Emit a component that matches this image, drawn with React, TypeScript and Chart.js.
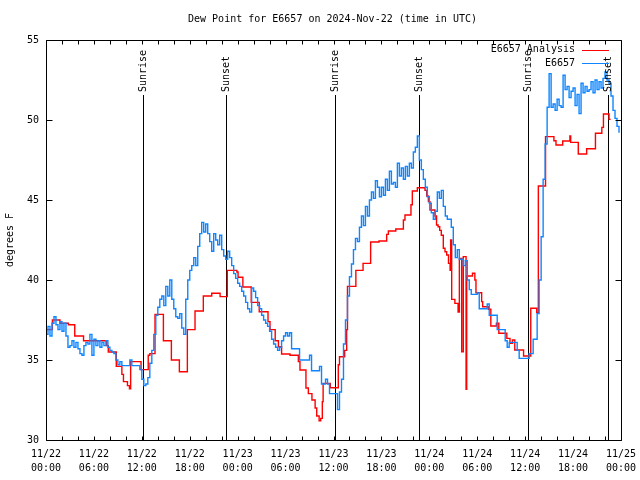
import React, { useEffect, useRef } from 'react';
import { Chart, registerables } from 'chart.js';

Chart.register(...registerables);

const FONT = '"DejaVu Sans Mono", "Liberation Mono", monospace';

const chartTitle = 'Dew Point for E6657 on 2024-Nov-22 (time in UTC)';
const yAxisTitle = 'degrees F';
const seriesNames = ['E6657 Analysis', 'E6657'];
const seriesColors = ['#ff0000', '#0f86ff'];

const xTickDates = ['11/22', '11/22', '11/22', '11/22', '11/23', '11/23', '11/23', '11/23', '11/24', '11/24', '11/24', '11/24', '11/25'];
const xTickTimes = ['00:00', '06:00', '12:00', '18:00', '00:00', '06:00', '12:00', '18:00', '00:00', '06:00', '12:00', '18:00', '00:00'];
const xMinHour = 0;
const xMaxHour = 72;
const xMajorStep = 6;
const xMinorStep = 2;
const yMin = 30;
const yMax = 55;
const yStep = 5;

const sunriseHours = [12.1, 36.2, 60.3];
const sunsetHours = [22.5, 46.65, 70.4];

// Analysis (stepped): hour since 11/22 00:00 UTC, value °F
const analysisHours = [
  0.0, 0.8, 1.75, 2.8, 3.6, 4.7, 7.6, 7.8, 8.8, 9.5, 9.7, 10.2, 10.45, 10.6, 11.9,
  12.8, 13.0, 13.65, 14.7, 15.7, 16.7, 17.7, 18.66, 19.7, 20.75, 21.8, 22.7, 23.9,
  24.05, 24.65, 25.7, 26.7, 27.8, 28.05, 28.7, 29.1, 29.5, 30.55, 31.6, 31.8, 32.55,
  32.85, 33.3, 33.7, 33.9, 34.2, 34.4, 34.6, 34.7, 35.6, 36.6, 36.75, 37.4, 37.65,
  37.75, 38.8, 39.7, 40.65, 41.7, 42.66, 42.87, 43.8, 44.75, 44.95, 45.7, 45.87,
  46.5, 47.46, 47.67, 47.88, 48.08, 48.7, 48.9, 49.1, 49.3, 49.5, 49.75, 49.96,
  50.17, 50.4, 50.6, 50.67, 50.8, 51.2, 51.6, 51.76, 52.05, 52.25, 52.4, 52.6,
  52.68, 53.4, 53.7, 53.84, 54.55, 54.68, 55.4, 55.7, 56.4, 56.7, 57.7, 58.1, 58.4,
  58.7, 59.8, 60.7, 61.45, 61.65, 62.55, 63.6, 63.86, 64.7, 65.6, 65.7, 66.65,
  67.7, 68.8, 69.6, 69.8, 70.5, 70.7,
];
const analysisDewPoint = [
  36.9, 37.5, 37.3, 37.2, 36.5, 36.2, 35.9, 35.5, 34.6, 34.1, 33.65, 33.4, 33.2, 34.9, 34.4,
  35.3, 35.4, 37.85, 36.2, 35.0, 34.27, 36.9, 38.06, 39.0, 39.17, 38.96, 40.6, 40.5,
  40.17, 39.56, 38.6, 38.02, 37.4, 36.9, 36.2, 35.83, 35.375, 35.3, 34.9, 34.375, 33.25,
  32.9, 32.5, 32.0, 31.5, 31.2, 31.35, 32.4, 33.54, 33.27, 34.7, 35.2, 35.6, 36.9,
  39.6, 40.6, 41.04, 42.375, 42.44, 42.85, 43.06, 43.19, 43.75, 44.06, 44.7, 45.56,
  45.77, 45.6, 45.25, 44.9, 44.375, 44.0, 43.44, 43.33, 43.1, 42.8, 41.98, 41.77,
  41.56, 41.04, 40.6, 42.5, 38.79, 38.54, 38.0, 41.35, 35.52, 41.46, 41.46, 33.17,
  40.25, 40.42, 40.0, 39.2, 38.65, 38.33, 38.17, 37.125, 37.3, 36.67, 36.35, 36.04, 36.25,
  35.625, 35.25, 38.23, 37.96, 45.875, 48.96, 48.7, 48.44, 48.69, 49.0, 48.6, 47.875,
  48.2, 49.17, 49.54, 50.375, 50.04, 50.04,
];

// Observations, one value every 15 minutes from 11/22 00:00 UTC
const obsStartHour = 0;
const obsStepHours = 0.25;
const obsDewPoint = [
  36.6, 37.1, 36.5, 37.3, // 0h
  37.7, 37.2, 36.9, 37.4,
  36.8, 37.3, 36.5, 35.8,
  35.9, 36.2, 35.8, 36.1,
  35.7, 35.4, 35.3, 35.9,
  36.1, 36.0, 36.6, 35.3,
  36.3, 35.9, 36.2, 35.8, // 6h
  36.1, 35.9, 36.2, 35.8,
  35.6, 35.5, 35.4, 35.0,
  34.7, 34.9, 34.65, 34.65,
  34.65, 34.65, 35.0, 34.65,
  34.65, 34.65, 34.65, 34.4,
  33.8, 33.4, 33.5, 33.9, // 12h
  34.8, 35.6, 36.6, 37.8,
  38.3, 38.8, 39.0, 38.4,
  39.6, 39.0, 40.0, 38.8,
  38.2, 37.7, 37.6, 37.9,
  37.0, 36.6, 38.8, 40.0,
  40.6, 40.9, 41.4, 40.9, // 18h
  42.1, 42.9, 43.6, 43.0,
  43.5, 42.9, 42.4, 41.8,
  42.9, 42.5, 42.2, 42.8,
  41.9, 41.5, 41.3, 41.8,
  41.4, 40.9, 40.4, 40.1,
  39.8, 39.6, 39.3, 39.0, // 24h
  38.6, 38.2, 38.0, 39.5,
  39.3, 38.9, 38.4, 38.2,
  37.8, 37.5, 37.3, 37.1,
  36.8, 36.3, 36.0, 35.8,
  35.6, 35.8, 36.2, 36.5,
  36.7, 36.5, 36.7, 35.7, // 30h
  35.7, 35.7, 35.7, 35.0,
  35.0, 35.0, 35.0, 35.0,
  35.3, 34.33, 34.33, 34.33,
  34.33, 34.6, 33.5, 33.5,
  33.8, 33.5, 32.9, 32.9,
  32.9, 32.9, 31.9, 33.0, // 36h
  33.8, 36.0, 37.5, 39.0,
  40.2, 41.0, 41.9, 42.6,
  42.4, 43.3, 44.0, 43.4,
  44.6, 44.0, 45.0, 45.5,
  45.1, 46.2, 45.8, 45.2,
  45.8, 45.3, 46.3, 45.6, // 42h
  46.8, 46.0, 46.1, 45.8,
  47.3, 46.5, 47.0, 46.3,
  47.1, 46.5, 47.3, 47.0,
  48.0, 48.3, 49.0, 47.5,
  46.9, 46.3, 45.8, 45.2,
  44.8, 44.2, 43.8, 44.3, // 48h
  45.5, 45.1, 45.6, 44.6,
  44.0, 43.8, 43.8, 43.3,
  42.2, 41.4, 41.9, 41.3,
  41.3, 40.9, 41.2, 40.0,
  39.4, 39.1, 39.1, 39.1,
  39.2, 38.2, 38.2, 38.2, // 54h
  38.2, 38.5, 37.8, 37.8,
  37.8, 37.8, 36.9, 36.9,
  36.9, 36.9, 36.2, 35.8,
  36.1, 36.1, 36.1, 36.1,
  35.6, 35.1, 35.1, 35.1,
  35.1, 35.1, 35.4, 35.4, // 60h
  36.3, 36.3, 37.9, 40.0,
  42.7, 46.3, 48.5, 50.8,
  52.9, 50.8, 51.0, 50.6,
  51.3, 50.9, 50.8, 52.8,
  51.9, 52.1, 51.4, 51.8,
  52.0, 50.9, 51.6, 50.4, // 66h
  52.3, 51.7, 52.1, 51.8,
  51.9, 52.4, 51.7, 52.5,
  51.9, 52.4, 52.0, 52.6,
  53.0, 52.5, 52.3, 51.5,
  50.6, 50.1, 49.6, 49.2,
];

const framePlugin = {
  id: 'gnuplotFrame',
  beforeDatasetsDraw(chart: any) {
    const { ctx, chartArea: a, scales } = chart;
    const x = scales.x;
    ctx.save();
    ctx.strokeStyle = '#000';
    ctx.lineWidth = 1;
    const hours = [...sunriseHours, ...sunsetHours];
    for (const h of hours) {
      const px = Math.round(x.getPixelForValue(h)) + 0.5;
      ctx.beginPath();
      ctx.moveTo(px, a.top + 55);
      ctx.lineTo(px, a.bottom);
      ctx.stroke();
    }
    ctx.restore();
  },
  afterDatasetsDraw(chart: any) {
    const { ctx, chartArea: a, scales } = chart;
    const x = scales.x;
    const y = scales.y;
    ctx.save();
    ctx.fillStyle = '#000';
    ctx.strokeStyle = '#000';
    ctx.lineWidth = 1;
    ctx.font = `10px ${FONT}`;

    // sunrise / sunset labels
    const marks: [number, string][] = [
      ...sunriseHours.map((h) => [h, 'Sunrise'] as [number, string]),
      ...sunsetHours.map((h) => [h, 'Sunset'] as [number, string]),
    ];
    for (const [h, label] of marks) {
      const px = Math.round(x.getPixelForValue(h)) + 0.5;
      ctx.save();
      ctx.translate(px, a.top + 52);
      ctx.rotate(-Math.PI / 2);
      ctx.textAlign = 'left';
      ctx.textBaseline = 'middle';
      ctx.fillText(label, 0, 0);
      ctx.restore();
    }

    // border
    const L = Math.round(a.left) + 0.5;
    const R = Math.round(a.right) + 0.5;
    const T = Math.round(a.top) + 0.5;
    const B = Math.round(a.bottom) + 0.5;
    ctx.beginPath();
    ctx.rect(L, T, R - L, B - T);
    ctx.stroke();

    // x ticks (inward, bottom and top)
    ctx.beginPath();
    for (let h = xMinHour; h <= xMaxHour; h += xMinorStep) {
      const px = Math.round(x.getPixelForValue(h)) + 0.5;
      ctx.moveTo(px, B);
      ctx.lineTo(px, B - 4);
      ctx.moveTo(px, T);
      ctx.lineTo(px, T + 4);
    }
    // y ticks (inward, left and right)
    for (let v = yMin; v <= yMax; v += yStep) {
      const py = Math.round(y.getPixelForValue(v)) + 0.5;
      ctx.moveTo(L, py);
      ctx.lineTo(L + 6, py);
      ctx.moveTo(R, py);
      ctx.lineTo(R - 6, py);
    }
    ctx.stroke();

    // legend
    ctx.textAlign = 'right';
    ctx.textBaseline = 'middle';
    const legendRows = [a.top + 9.5, a.top + 23];
    seriesNames.forEach((name, i) => {
      const ly = legendRows[i];
      ctx.fillStyle = '#000';
      ctx.fillText(name, a.right - 46, ly);
      ctx.strokeStyle = seriesColors[i];
      ctx.beginPath();
      ctx.moveTo(a.right - 39, Math.round(ly) + 0.5);
      ctx.lineTo(a.right - 12, Math.round(ly) + 0.5);
      ctx.stroke();
    });

    // title
    ctx.fillStyle = '#000';
    ctx.textAlign = 'center';
    ctx.textBaseline = 'middle';
    ctx.fillText(chartTitle, (a.left + a.right) / 2 - 1, 19.5);

    // y axis title
    ctx.save();
    ctx.translate(10.5, (a.top + a.bottom) / 2);
    ctx.rotate(-Math.PI / 2);
    ctx.textAlign = 'center';
    ctx.textBaseline = 'middle';
    ctx.fillText(yAxisTitle, 0, 0);
    ctx.restore();

    ctx.restore();
  },
};

export default function App() {
  const canvasRef = useRef<HTMLCanvasElement | null>(null);

  useEffect(() => {
    const canvas = canvasRef.current;
    if (!canvas) return;

    const analysisPoints = analysisHours.map((h, i) => ({ x: h, y: analysisDewPoint[i] }));
    const obsPoints = obsDewPoint.map((v, i) => ({ x: obsStartHour + i * obsStepHours, y: v }));

    const chart = new Chart(canvas, {
      type: 'line',
      data: {
        datasets: [
          {
            label: seriesNames[1],
            data: obsPoints,
            borderColor: seriesColors[1],
            borderWidth: 1.4,
            pointRadius: 0,
            stepped: true,
            fill: false,
            order: 0,
          },
          {
            label: seriesNames[0],
            data: analysisPoints,
            borderColor: seriesColors[0],
            borderWidth: 1.4,
            pointRadius: 0,
            stepped: true,
            fill: false,
            order: 1,
          },
        ],
      },
      options: {
        animation: false,
        responsive: false,
        events: [],
        layout: { padding: { top: 40, right: 19, left: 0, bottom: 0 } },
        plugins: {
          legend: { display: false },
          title: { display: false },
          tooltip: { enabled: false },
        },
        scales: {
          x: {
            type: 'linear',
            min: xMinHour,
            max: xMaxHour,
            border: { display: false },
            grid: { display: false, drawTicks: false },
            afterFit: (s: any) => {
              s.height = 40;
              s.paddingLeft = 0;
              s.paddingRight = 0;
            },
            ticks: {
              stepSize: xMajorStep,
              autoSkip: false,
              maxRotation: 0,
              minRotation: 0,
              padding: 7,
              color: '#000',
              font: { family: FONT, size: 10, lineHeight: 1.4 },
              callback: (value: any) => {
                const i = Math.round((Number(value) - xMinHour) / xMajorStep);
                return [xTickDates[i], xTickTimes[i]];
              },
            },
          },
          y: {
            type: 'linear',
            min: yMin,
            max: yMax,
            border: { display: false },
            grid: { display: false, drawTicks: false },
            afterFit: (s: any) => {
              s.width = 46;
              s.paddingTop = 0;
              s.paddingBottom = 0;
            },
            ticks: {
              stepSize: yStep,
              padding: 7,
              color: '#000',
              font: { family: FONT, size: 10 },
            },
          },
        },
      },
      plugins: [framePlugin],
    });

    return () => {
      chart.destroy();
    };
  }, []);

  return (
    <div style={{ position: 'absolute', left: 0, top: 0, width: 640, height: 480, background: '#fff' }}>
      <canvas ref={canvasRef} width={640} height={480} />
    </div>
  );
}
